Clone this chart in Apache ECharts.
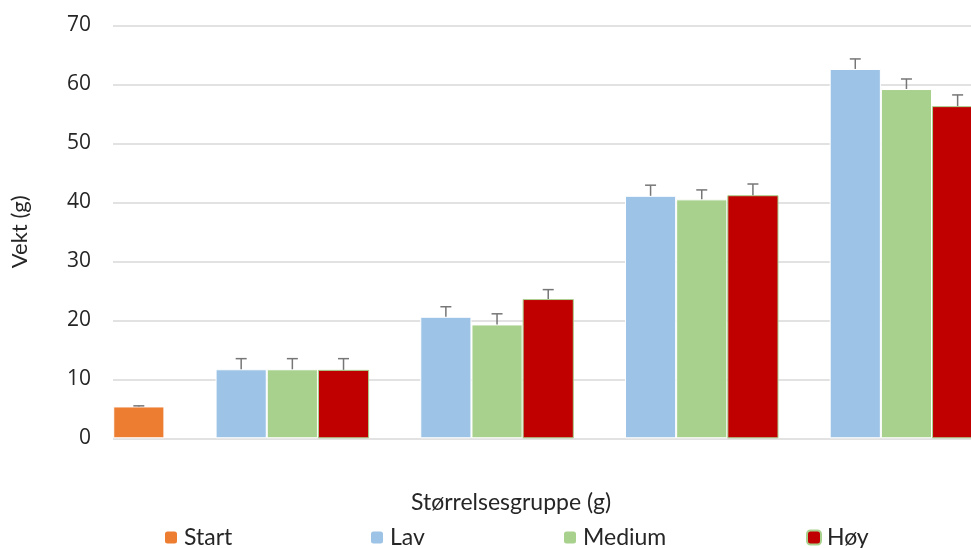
<!DOCTYPE html>
<html>
<head>
<meta charset="utf-8">
<script src="https://cdn.jsdelivr.net/npm/echarts@6/dist/echarts.min.js"></script>
<style>html,body{margin:0;padding:0;background:#fff;overflow:hidden}#c{width:971px;height:548px}</style>
</head>
<body>
<div id="c"></div>
<script>
var categories = ['Start', 'G1', 'G2', 'G3', 'G4'];
var startValues = [5.4, null, null, null, null];
var startErr = [0.1, null, null, null, null];
var lavValues = [null, 11.7, 20.6, 41.1, 62.6];
var lavErr = [null, 1.8, 1.7, 1.8, 1.7];
var mediumValues = [null, 11.7, 19.3, 40.5, 59.2];
var mediumErr = [null, 1.8, 1.8, 1.6, 1.7];
var hoyValues = [null, 11.6, 23.6, 41.2, 56.3];
var hoyErr = [null, 1.9, 1.6, 1.9, 1.9];
var yTicks = { min: 0, max: 70, interval: 10 };

var FONT = 'Lato';
var TXT = '#262626';

function errData(vals, errs) {
  var out = [];
  for (var i = 0; i < vals.length; i++) {
    if (vals[i] != null && errs[i] != null) out.push([i, vals[i], errs[i]]);
  }
  return out;
}
function errRender(slot) {
  return function (params, api) {
    var x = api.value(0), v = api.value(1), e = api.value(2);
    var bw = api.size([1, 0])[0] * 0.75 / 3;
    var top = api.coord([x, v]);
    var cap = api.coord([x, v + e]);
    var cx = top[0] + (slot - 1) * bw;
    var hw = 5.5;
    var st = { stroke: '#767676', lineWidth: 1.5 };
    return {
      type: 'group',
      children: [
        { type: 'line', shape: { x1: cx, y1: top[1], x2: cx, y2: cap[1] }, style: st },
        { type: 'line', shape: { x1: cx - hw, y1: cap[1], x2: cx + hw, y2: cap[1] }, style: st }
      ]
    };
  };
}
function legend(name, left) {
  return {
    data: [name], left: left, top: 526, padding: 0,
    itemWidth: 14, itemHeight: 14, itemGap: 0,
    textStyle: { fontFamily: FONT, fontSize: 23, color: TXT, padding: [0, 0, 0, 1] }
  };
}

var chart = echarts.init(document.getElementById('c'), null, { renderer: 'canvas' });
var barCommon = { type: 'bar', xAxisIndex: 0, yAxisIndex: 0, barGap: '0%', barCategoryGap: '25%' };
chart.setOption({
  animation: false,
  backgroundColor: '#fff',
  title: {
    text: 'Størrelsesgruppe (g)', left: 406, top: 486,
    textStyle: { fontFamily: FONT, fontSize: 23, fontWeight: 'normal', color: TXT }
  },
  legend: [legend('Start', 163), legend('Lav', 369), legend('Medium', 562), legend('Høy', 806)],
  grid: [
    { left: -14.7, right: -37.8, top: 25.3, bottom: 109.7, outerBoundsMode: 'none', containLabel: false },
    { left: 113, right: -37.8, top: 25.3, bottom: 109.7, outerBoundsMode: 'none', containLabel: false }
  ],
  xAxis: [
    { type: 'category', gridIndex: 0, data: categories, show: false },
    { type: 'value', gridIndex: 1, show: false }
  ],
  yAxis: [
    { type: 'value', gridIndex: 0, min: yTicks.min, max: yTicks.max, interval: yTicks.interval, show: false },
    {
      type: 'value', gridIndex: 1, min: yTicks.min, max: yTicks.max, interval: yTicks.interval,
      name: 'Vekt (g)', nameLocation: 'middle', nameRotate: 90, nameGap: 82,
      nameTextStyle: { fontFamily: FONT, fontSize: 22, color: TXT },
      axisLine: { show: false }, axisTick: { show: false },
      axisLabel: { fontFamily: 'Open Sans', fontSize: 21, color: TXT, margin: 22 },
      splitLine: { lineStyle: { color: '#d9d9d9', width: 1.5 } }
    }
  ],
  series: [
    Object.assign({}, barCommon, { name: 'Lav', data: lavValues, itemStyle: { color: '#9dc3e6', borderColor: '#ffffff', borderWidth: 1 } }),
    Object.assign({}, barCommon, { name: 'Medium', data: mediumValues, itemStyle: { color: '#a9d18e', borderColor: '#ffffff', borderWidth: 1 } }),
    Object.assign({}, barCommon, { name: 'Høy', stack: 'h', data: hoyValues, itemStyle: { color: '#c00000', borderColor: '#a9d18e', borderWidth: 1 } }),
    Object.assign({}, barCommon, { name: 'Start', stack: 'h', data: startValues, itemStyle: { color: '#ed7d31', borderColor: '#ffffff', borderWidth: 1 } }),
    { type: 'custom', xAxisIndex: 0, yAxisIndex: 0, z: 5, renderItem: errRender(0), data: errData(lavValues, lavErr), silent: true },
    { type: 'custom', xAxisIndex: 0, yAxisIndex: 0, z: 5, renderItem: errRender(1), data: errData(mediumValues, mediumErr), silent: true },
    { type: 'custom', xAxisIndex: 0, yAxisIndex: 0, z: 5, renderItem: errRender(2), data: errData(hoyValues, hoyErr), silent: true },
    { type: 'custom', xAxisIndex: 0, yAxisIndex: 0, z: 5, renderItem: errRender(2), data: errData(startValues, startErr), silent: true }
  ]
});
</script>
</body>
</html>
